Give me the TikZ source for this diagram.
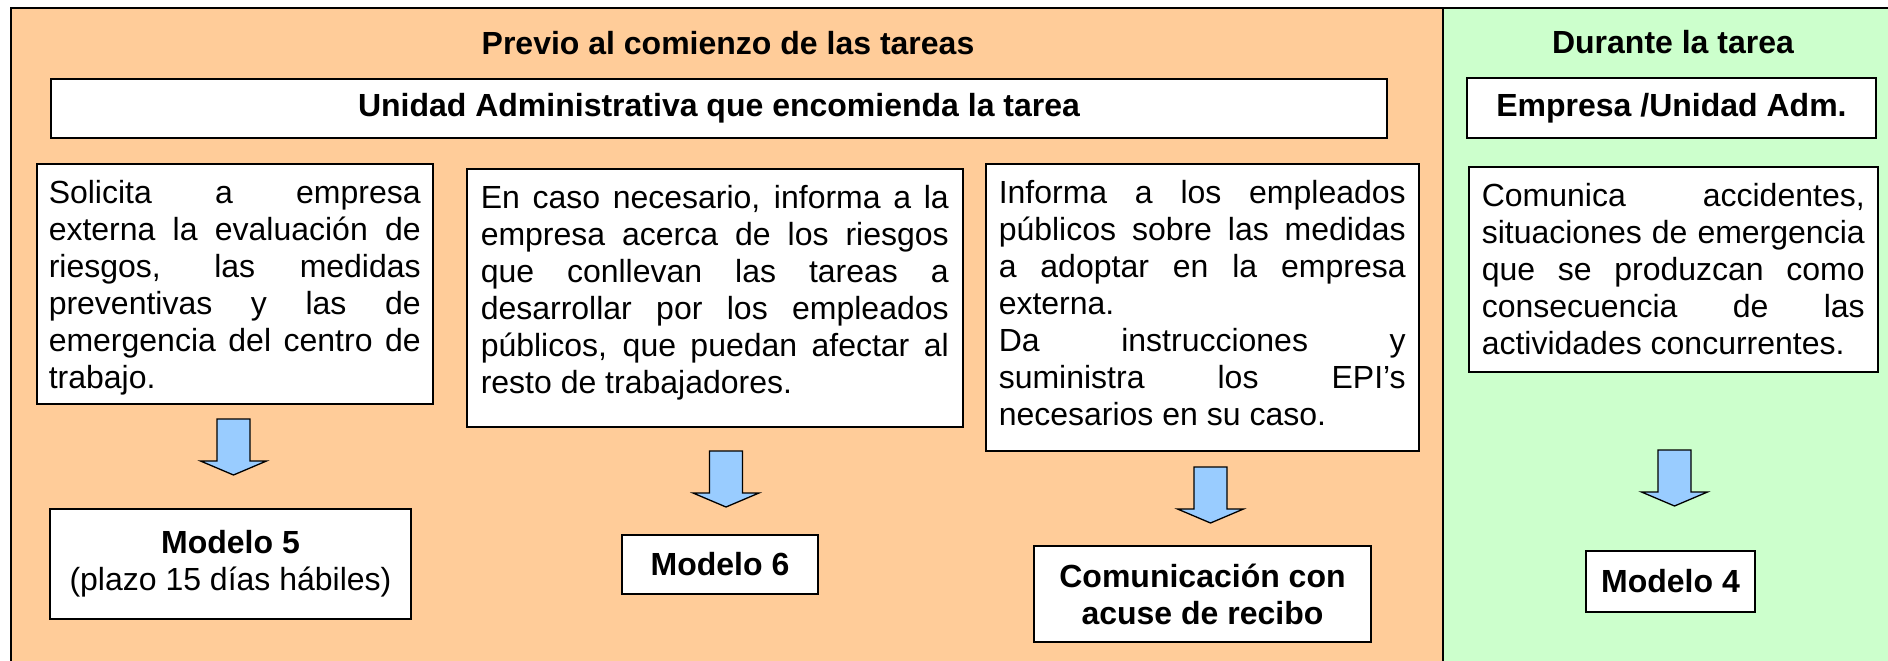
\documentclass[tikz,border=0pt]{standalone}
\usepackage{fontspec}
\setmainfont{Liberation Sans}

\definecolor{naranja}{HTML}{FFCC99}
\definecolor{verde}{HTML}{CCFFCC}
\definecolor{azul}{HTML}{99CCFF}

% justified line / last line
\newcommand{\jl}[1]{\makebox[\linewidth][s]{\strut #1}}
\newcommand{\ul}[1]{\strut #1}

\tikzset{
  texto/.style={font=\fontsize{32}{37}\selectfont},
  negrita/.style={font=\fontsize{32}{37}\selectfont\bfseries},
  caja/.style={draw=black, line width=1.5pt, fill=white, rectangle, inner ysep=14pt, anchor=north west},
  cajamodelo/.style={draw=black, line width=1.5pt, fill=white, rectangle, inner sep=0pt, align=center, negrita},
  titulo/.style={negrita, anchor=base},
  flecha/.pic={
    \draw[fill=azul, line width=1.3pt, line join=miter]
      (-16.5,0) -- (16.5,0) -- (16.5,42) -- (33,42) -- (0,56)
      -- (-33,42) -- (-16.5,42) -- cycle;
  }
}

\begin{document}
\begin{tikzpicture}[x=1pt, y=-1pt, texto]
\useasboundingbox (0,0) rectangle (1888,661);
\clip (0,0) rectangle (1888,661);

% fondo
\fill[naranja] (11,8) rectangle (1443,700);
\fill[verde] (1443,8) rectangle (1920,700);
\draw[line width=2.5pt] (11,700) -- (11,8) -- (1920,8);
\draw[line width=2pt] (1443,8) -- (1443,700);

% titulos
\node[titulo] (previo) at (728,55) {Previo al comienzo de las tareas};
\node[titulo] (durante) at (1673,54) {Durante la tarea};

\node[cajamodelo, minimum width=1336pt, minimum height=59pt] (unidad) at (719,108.5) {Unidad Administrativa que encomienda la tarea};
\node[cajamodelo, minimum width=409pt, minimum height=60pt] (empresa) at (1671.5,108) {Empresa /Unidad Adm.};

% cajas de texto
\node[caja, inner xsep=12pt] (solicita) at (36,163) {\parbox[t][212pt][t]{372pt}{%
\jl{Solicita a empresa}\\
\jl{externa la evaluación de}\\
\jl{riesgos, las medidas}\\
\jl{preventivas y las de}\\
\jl{emergencia del centro de}\\
\ul{trabajo.}}};

\node[caja, inner xsep=14pt] (informa) at (466,168) {\parbox[t][230pt][t]{468pt}{%
\jl{En caso necesario, informa a la}\\
\jl{empresa acerca de los riesgos}\\
\jl{que conllevan las tareas a}\\
\jl{desarrollar por los empleados}\\
\jl{públicos, que puedan afectar al}\\
\ul{resto de trabajadores.}}};

\node[caja, inner xsep=13pt] (instruye) at (985,163) {\parbox[t][259pt][t]{407pt}{%
\jl{Informa a los empleados}\\
\jl{públicos sobre las medidas}\\
\jl{a adoptar en la empresa}\\
\ul{externa.}\\
\jl{Da instrucciones y}\\
\jl{suministra los EPI’s}\\
\ul{necesarios en su caso.}}};

\node[caja, inner xsep=13pt] (comunica) at (1468,166) {\parbox[t][177pt][t]{383pt}{%
\jl{Comunica accidentes,}\\
\jl{situaciones de emergencia}\\
\jl{que se produzcan como}\\
\jl{consecuencia de las}\\
\ul{actividades concurrentes.}}};

% flechas
\pic at (233.5,419) {flecha};
\pic at (726,451) {flecha};
\pic at (1210.5,467) {flecha};
\pic at (1674.5,450) {flecha};

% modelos
\node[cajamodelo, minimum width=361pt, minimum height=110pt] (modelo5) at (230.5,564) {Modelo 5\\\mdseries(plazo 15 días hábiles)};
\node[cajamodelo, minimum width=196pt, minimum height=59pt] (modelo6) at (720,564.5) {Modelo 6};
\node[cajamodelo, minimum width=337pt, minimum height=96pt] (acuse) at (1202.5,594) {Comunicación con\\acuse de recibo};
\node[cajamodelo, minimum width=169pt, minimum height=61pt] (modelo4) at (1670.5,581.5) {Modelo 4};
\end{tikzpicture}
\end{document}
